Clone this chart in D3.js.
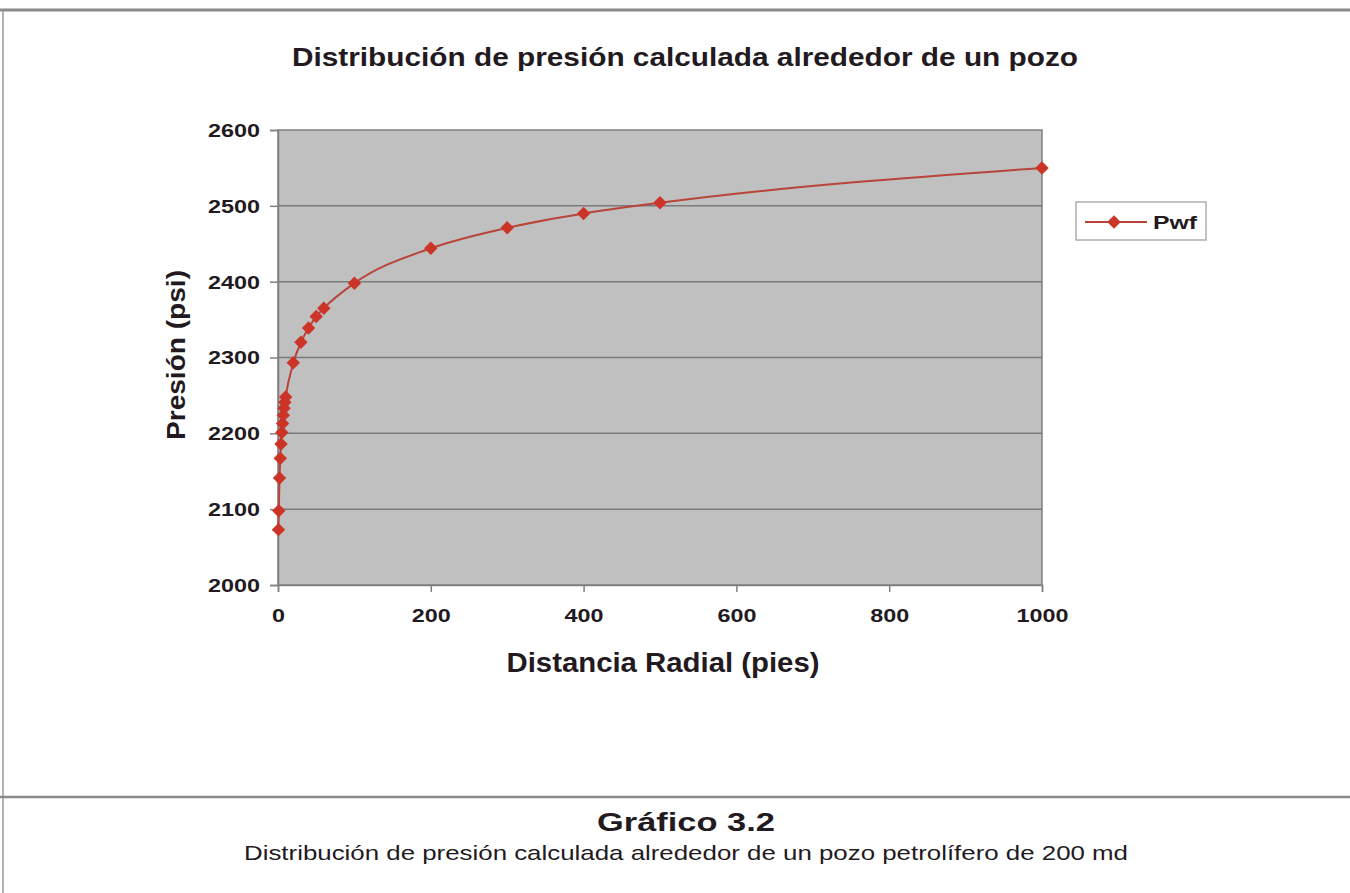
<!DOCTYPE html>
<html><head><meta charset="utf-8">
<script src="https://cdn.jsdelivr.net/npm/d3@7"></script>
<style>
html,body{margin:0;padding:0;background:#fff;}
text{font-family:"Liberation Sans",Arial,sans-serif;fill:#231a1f;}
</style></head>
<body>
<svg id="c" width="1350" height="893"></svg>
<script>
const distances = [0.6, 1, 2, 3, 4, 5, 6, 7, 8, 9, 10, 20, 30, 40, 50, 60, 100, 200, 300, 400, 500, 1000];
const pressures = [2073, 2098, 2141, 2167, 2186, 2201, 2213, 2224, 2233, 2241, 2248, 2293, 2320, 2339, 2354, 2365, 2398, 2444, 2471, 2490, 2504, 2550];
const xTicks = [0, 200, 400, 600, 800, 1000];
const yTicks = [2000, 2100, 2200, 2300, 2400, 2500, 2600];
const seriesName = "Pwf";
const chartTitle = "Distribución de presión calculada alrededor de un pozo";
const xTitle = "Distancia Radial (pies)";
const yTitle = "Presión (psi)";
const captionTitle = "Gráfico 3.2";
const captionText = "Distribución de presión calculada alrededor de un pozo petrolífero de 200 md";

const svg = d3.select("#c");
const L = 278, R = 1042, T = 130, B = 585;
const x = d3.scaleLinear().domain([0, 1000]).range([L, R]);
const y = d3.scaleLinear().domain([2000, 2600]).range([B, T]);
const lineColor = "#b8443a", markColor = "#cc3428";
const digitW = 13; // stretched digit width

// frame
svg.append("line").attr("x1",0).attr("x2",1350).attr("y1",10).attr("y2",10).attr("stroke","#8a8a8a").attr("stroke-width",3);
svg.append("line").attr("x1",3).attr("x2",3).attr("y1",10).attr("y2",893).attr("stroke","#9a9a9a").attr("stroke-width",1.5);
svg.append("line").attr("x1",0).attr("x2",1350).attr("y1",797).attr("y2",797).attr("stroke","#8a8a8a").attr("stroke-width",2.5);

// title
svg.append("text").attr("x",685).attr("y",66).attr("text-anchor","middle")
  .attr("font-size",25).attr("font-weight","bold")
  .attr("textLength",786).attr("lengthAdjust","spacingAndGlyphs").text(chartTitle);

// plot area
svg.append("rect").attr("x",L).attr("y",T).attr("width",R-L).attr("height",B-T)
  .attr("fill","#c0c0c0").attr("stroke","#808080").attr("stroke-width",1.5);

// gridlines
svg.append("g").selectAll("line").data(yTicks.slice(1,-1)).join("line")
  .attr("x1",L).attr("x2",R).attr("y1",d=>y(d)).attr("y2",d=>y(d))
  .attr("stroke","#7a7a7a").attr("stroke-width",1.5);

// axes
const yAxis = svg.append("g").attr("transform",`translate(${L},0)`)
  .call(d3.axisLeft(y).tickValues(yTicks).tickFormat(d3.format("d")).tickSize(8).tickPadding(10));
const xAxis = svg.append("g").attr("transform",`translate(0,${B})`)
  .call(d3.axisBottom(x).tickValues(xTicks).tickFormat(d3.format("d")).tickSize(7).tickPadding(17));
[yAxis,xAxis].forEach(g=>{
  g.select(".domain").attr("stroke","#808080").attr("stroke-width",1.5);
  g.selectAll(".tick line").attr("stroke","#808080").attr("stroke-width",1.5);
  g.selectAll(".tick text").attr("font-size",18).attr("font-weight","bold").attr("fill","#231a1f")
   .attr("font-family","'Liberation Sans',Arial,sans-serif")
   .attr("textLength",function(){return this.textContent.length*digitW;})
   .attr("lengthAdjust","spacingAndGlyphs");
});
yAxis.selectAll(".tick text").attr("dy","0.36em");

// axis titles
svg.append("text").attr("x",663).attr("y",672).attr("text-anchor","middle")
  .attr("font-size",27).attr("font-weight","bold")
  .attr("textLength",313).attr("lengthAdjust","spacingAndGlyphs").text(xTitle);
svg.append("text").attr("transform","translate(185,355) rotate(-90)").attr("text-anchor","middle")
  .attr("font-size",25).attr("font-weight","bold")
  .attr("textLength",170).attr("lengthAdjust","spacingAndGlyphs").text(yTitle);

// series
const data = distances.map((d,i)=>({x:d,y:pressures[i]}));
const line = d3.line().x(d=>x(d.x)).y(d=>y(d.y)).curve(d3.curveMonotoneX);
svg.append("path").datum(data).attr("d",line).attr("fill","none").attr("stroke",lineColor).attr("stroke-width",2);
const diamond = d3.symbol().type(d3.symbolDiamond2).size(115);
svg.append("g").selectAll("path").data(data).join("path")
  .attr("transform",d=>`translate(${x(d.x)},${y(d.y)})`).attr("d",diamond).attr("fill",markColor);

// legend
const lg = svg.append("g");
lg.append("rect").attr("x",1076).attr("y",202).attr("width",130).attr("height",38)
  .attr("fill","#fff").attr("stroke","#9a9a9a").attr("stroke-width",1.2);
lg.append("line").attr("x1",1085).attr("x2",1147).attr("y1",222).attr("y2",222).attr("stroke",lineColor).attr("stroke-width",2);
lg.append("path").attr("transform","translate(1114,222)").attr("d",diamond).attr("fill",markColor);
lg.append("text").attr("x",1153).attr("y",229).attr("font-size",19).attr("font-weight","bold")
  .attr("textLength",44).attr("lengthAdjust","spacingAndGlyphs").text(seriesName);

// caption
svg.append("text").attr("x",686).attr("y",831).attr("text-anchor","middle")
  .attr("font-size",25).attr("font-weight","bold")
  .attr("textLength",178).attr("lengthAdjust","spacingAndGlyphs").text(captionTitle);
svg.append("text").attr("x",686).attr("y",860).attr("text-anchor","middle")
  .attr("font-size",21)
  .attr("textLength",884).attr("lengthAdjust","spacingAndGlyphs").text(captionText);
</script>
</body></html>
